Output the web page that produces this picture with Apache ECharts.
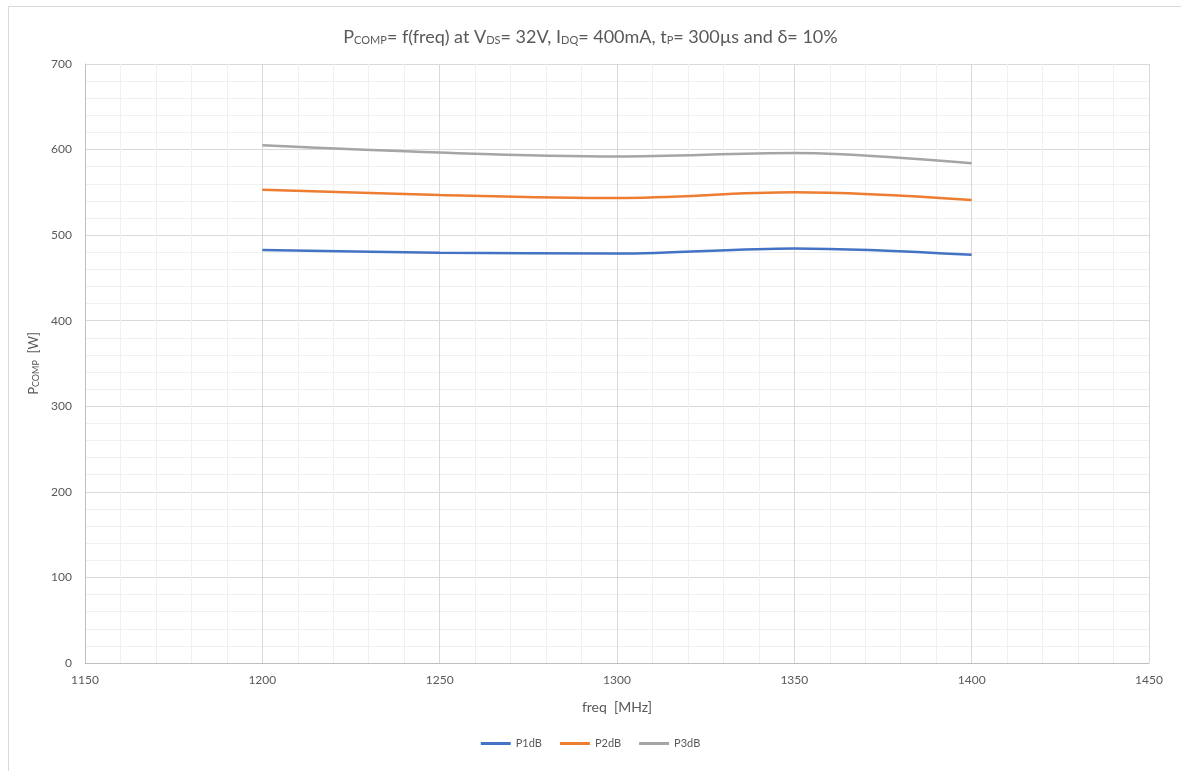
<!DOCTYPE html>
<html>
<head>
<meta charset="utf-8">
<script src="https://cdn.jsdelivr.net/npm/echarts@6/dist/echarts.min.js"></script>
<style>
html,body{margin:0;padding:0;background:#fff;}
#chart{width:1181px;height:771px;}
</style>
</head>
<body>
<div id="chart"></div>
<script>
const freq = [1200, 1250, 1300, 1350, 1400];
const p1dB = [482.5, 479.5, 478.5, 484.5, 477];
const p2dB = [553, 547, 543.5, 550, 541];
const p3dB = [605, 596.5, 592, 596, 584];
const seriesNames = ['P1dB', 'P2dB', 'P3dB'];
const seriesColors = ['#4472C4', '#ED7D31', '#A5A5A5'];
const seriesData = [p1dB, p2dB, p3dB];

const FONT = 'Lato, "Open Sans", sans-serif';
const chart = echarts.init(document.getElementById('chart'));
chart.setOption({
  backgroundColor: '#ffffff',
  animation: false,
  textStyle: { fontFamily: FONT },
  graphic: [{
    type: 'rect', left: 6, top: 4, silent: true,
    shape: { width: 1200, height: 800 },
    style: { fill: 'none', stroke: '#d9d9d9', lineWidth: 1 }
  }],
  title: {
    text: '{n|P}{s|COMP}{n|= f(freq) at V}{s|DS}{n|= 32V, I}{s|DQ}{n|= 400mA, t}{s|P}{n|= 300µs and δ= 10%}',
    left: 'center',
    top: 17,
    textStyle: {
      fontWeight: 'normal',
      rich: {
        n: { fontSize: 18, color: '#595959', fontFamily: FONT, fontWeight: 'normal', verticalAlign: 'bottom', lineHeight: 24 },
        s: { fontSize: 11, color: '#595959', fontFamily: FONT, fontWeight: 'normal', verticalAlign: 'bottom', lineHeight: 18 }
      }
    }
  },
  legend: {
    data: seriesNames,
    bottom: 17,
    left: 'center',
    itemWidth: 30,
    itemHeight: 3,
    itemGap: 18,
    icon: 'rect',
    textStyle: { color: '#595959', fontSize: 11, fontFamily: FONT }
  },
  grid: { left: 85, right: 32, top: 64, bottom: 108, containLabel: false },
  xAxis: {
    type: 'value',
    min: 1150, max: 1450, interval: 50,
    name: 'freq  [MHz]',
    nameLocation: 'middle',
    nameGap: 37,
    nameTextStyle: { color: '#595959', fontSize: 14, fontFamily: FONT },
    axisLine: { show: true, onZero: false, lineStyle: { color: '#bfbfbf' } },
    axisTick: { show: false },
    axisLabel: { color: '#595959', fontSize: 12, margin: 11, fontFamily: FONT, formatter: v => String(v) },
    splitLine: { show: true, lineStyle: { color: '#d9d9d9', width: 1 } },
    minorTick: { show: false, splitNumber: 5 },
    minorSplitLine: { show: true, lineStyle: { color: '#f0f0f0', width: 1 } }
  },
  yAxis: {
    type: 'value',
    min: 0, max: 700, interval: 100,
    name: '{n|P}{s|COMP}{n|  [W]}',
    nameLocation: 'middle',
    nameGap: 42,
    nameRotate: 90,
    nameTextStyle: {
      rich: {
        n: { fontSize: 13, color: '#595959', fontFamily: FONT, verticalAlign: 'bottom', lineHeight: 18 },
        s: { fontSize: 9, color: '#595959', fontFamily: FONT, verticalAlign: 'bottom', lineHeight: 14 }
      }
    },
    axisLine: { show: true, lineStyle: { color: '#bfbfbf' } },
    axisTick: { show: false },
    axisLabel: { color: '#595959', fontSize: 12, margin: 13, fontFamily: FONT, formatter: v => String(v) },
    splitLine: { show: true, lineStyle: { color: '#d9d9d9', width: 1 } },
    minorTick: { show: false, splitNumber: 5 },
    minorSplitLine: { show: true, lineStyle: { color: '#f0f0f0', width: 1 } }
  },
  series: seriesNames.map((name, i) => ({
    name: name,
    type: 'line',
    smooth: 0.35,
    showSymbol: false,
    symbol: 'none',
    data: freq.map((f, j) => [f, seriesData[i][j]]),
    lineStyle: { color: seriesColors[i], width: 2.5 },
    itemStyle: { color: seriesColors[i] }
  }))
});
</script>
</body>
</html>
